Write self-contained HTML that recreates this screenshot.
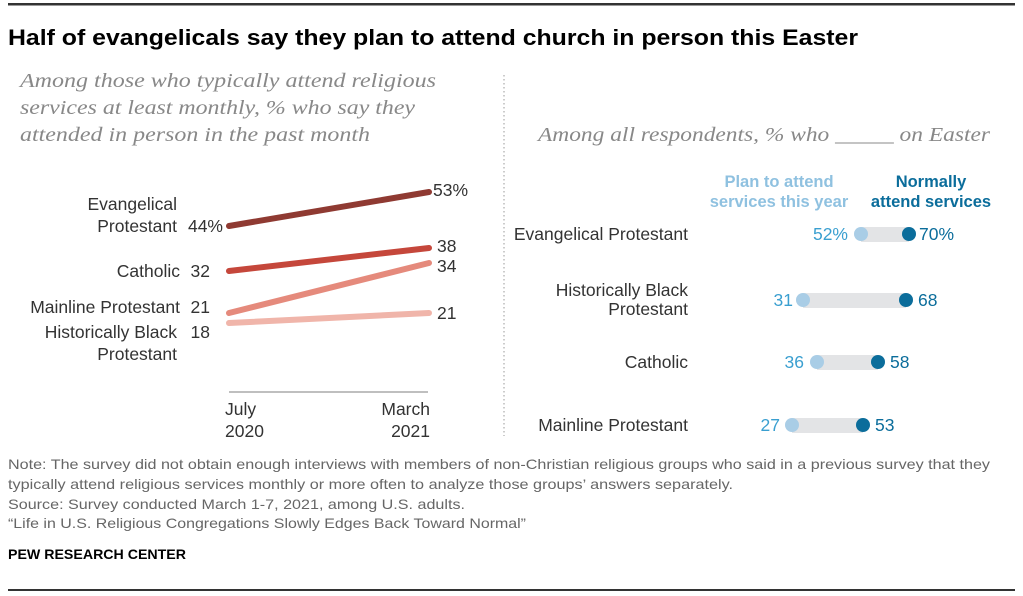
<!DOCTYPE html>
<html><head><meta charset="utf-8"><style>
html,body{margin:0;padding:0;background:#fff}
svg{display:block}
text{font-family:"Liberation Sans",sans-serif}
</style></head><body>
<svg width="1023" height="596" viewBox="0 0 1023 596">
<rect x="8" y="3" width="1007" height="2.5" fill="#333"/>
<rect x="8" y="589" width="1007" height="2" fill="#333"/>
<text x="8" y="45" font-size="22" font-weight="bold" fill="#000" textLength="850" lengthAdjust="spacingAndGlyphs">Half of evangelicals say they plan to attend church in person this Easter</text>
<g font-style="italic" font-size="20" fill="#888">
<text x="20" y="87" textLength="416" lengthAdjust="spacingAndGlyphs" style="font-family:'Liberation Serif',serif">Among those who typically attend religious</text>
<text x="20" y="114" textLength="395" lengthAdjust="spacingAndGlyphs" style="font-family:'Liberation Serif',serif">services at least monthly, % who say they</text>
<text x="20" y="141" textLength="350" lengthAdjust="spacingAndGlyphs" style="font-family:'Liberation Serif',serif">attended in person in the past month</text>
<text x="538" y="141" textLength="452" lengthAdjust="spacingAndGlyphs" style="font-family:'Liberation Serif',serif">Among all respondents, % who _____ on Easter</text>
</g>
<line x1="504" y1="75" x2="504" y2="436" stroke="#aaa" stroke-width="1.2" stroke-dasharray="1.5,2.5"/>
<g stroke-linecap="round" stroke-width="6" fill="none">
<line x1="229" y1="323" x2="429" y2="313" stroke="#f0b5aa"/>
<line x1="229" y1="313" x2="429" y2="263" stroke="#e58a7c"/>
<line x1="229" y1="271" x2="429" y2="248" stroke="#c5473b"/>
<line x1="229" y1="226" x2="429" y2="192" stroke="#8f3a32"/>
</g>
<line x1="229" y1="392" x2="428" y2="392" stroke="#999" stroke-width="1.2"/>
<g font-size="17.5" fill="#333" text-anchor="end">
<text x="177" y="210">Evangelical</text>
<text x="177" y="232">Protestant</text>
<text x="223" y="232">44%</text>
<text x="180" y="277">Catholic</text>
<text x="210" y="277">32</text>
<text x="180" y="313">Mainline Protestant</text>
<text x="210" y="313">21</text>
<text x="177" y="338">Historically Black</text>
<text x="210" y="338">18</text>
<text x="177" y="360">Protestant</text>
<text x="430" y="415">March</text>
<text x="430" y="437">2021</text>
</g>
<g font-size="17.5" fill="#333">
<text x="433" y="196">53%</text>
<text x="437" y="252">38</text>
<text x="437" y="272">34</text>
<text x="437" y="319">21</text>
<text x="225" y="415">July</text>
<text x="225" y="437">2020</text>
</g>
<g font-size="16.5" font-weight="bold" text-anchor="middle">
<text x="779" y="187" fill="#8fc1e0">Plan to attend</text>
<text x="779" y="207" fill="#8fc1e0">services this year</text>
<text x="931" y="187" fill="#0b6d9b">Normally</text>
<text x="931" y="207" fill="#0b6d9b">attend services</text>
</g>
<g font-size="17.5" fill="#333" text-anchor="end">
<text x="688" y="240">Evangelical Protestant</text>
<text x="688" y="296">Historically Black</text>
<text x="688" y="315">Protestant</text>
<text x="688" y="368">Catholic</text>
<text x="688" y="431">Mainline Protestant</text>
</g>
<g>
<rect x="861" y="227" width="48" height="15" fill="#e3e4e6"/>
<circle cx="861" cy="234" r="7" fill="#a9cde6"/><circle cx="909" cy="234" r="7" fill="#0b6d9b"/>
<rect x="803" y="293" width="103" height="15" fill="#e3e4e6"/>
<circle cx="803" cy="300" r="7" fill="#a9cde6"/><circle cx="906" cy="300" r="7" fill="#0b6d9b"/>
<rect x="817" y="355" width="61" height="15" fill="#e3e4e6"/>
<circle cx="817" cy="362" r="7" fill="#a9cde6"/><circle cx="878" cy="362" r="7" fill="#0b6d9b"/>
<rect x="792" y="418" width="71" height="15" fill="#e3e4e6"/>
<circle cx="792" cy="425" r="7" fill="#a9cde6"/><circle cx="863" cy="425" r="7" fill="#0b6d9b"/>
</g>
<g font-size="17.5" fill="#3a9fd0" text-anchor="end">
<text x="848" y="240">52%</text>
<text x="793" y="306">31</text>
<text x="804" y="368">36</text>
<text x="780" y="431">27</text>
</g>
<g font-size="17.5" fill="#0b6d9b">
<text x="919" y="240">70%</text>
<text x="918" y="306">68</text>
<text x="890" y="368">58</text>
<text x="875" y="431">53</text>
</g>
<g font-size="14" fill="#666">
<text x="8" y="469" textLength="982" lengthAdjust="spacingAndGlyphs">Note: The survey did not obtain enough interviews with members of non-Christian religious groups who said in a previous survey that they</text>
<text x="8" y="489" textLength="725" lengthAdjust="spacingAndGlyphs">typically attend religious services monthly or more often to analyze those groups’ answers separately.</text>
<text x="8" y="509" textLength="457" lengthAdjust="spacingAndGlyphs">Source: Survey conducted March 1-7, 2021, among U.S. adults.</text>
<text x="8" y="528" textLength="518" lengthAdjust="spacingAndGlyphs">“Life in U.S. Religious Congregations Slowly Edges Back Toward Normal”</text>
</g>
<text x="8" y="559" font-size="14" font-weight="bold" fill="#000" textLength="178" lengthAdjust="spacingAndGlyphs">PEW RESEARCH CENTER</text>
</svg>
</body></html>
